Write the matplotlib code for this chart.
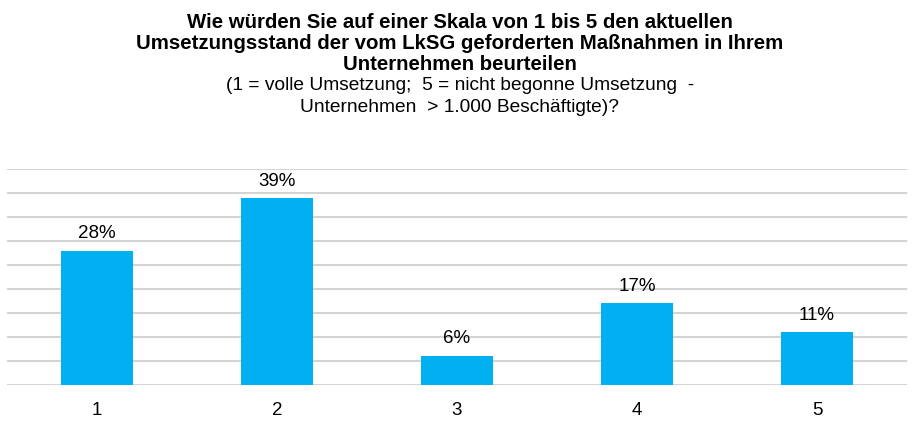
import matplotlib
matplotlib.use("Agg")
import matplotlib.pyplot as plt

categories = ["1", "2", "3", "4", "5"]
values = [28, 39, 6, 17, 11]
labels = ["28%", "39%", "6%", "17%", "11%"]

plt.rcParams['font.family'] = ['Liberation Sans', 'DejaVu Sans']

W, H = 924, 422
fig = plt.figure(figsize=(W/100, H/100), dpi=100)
ax = fig.add_axes([7/W, 1-384.7/H, 900/W, (384.7-169.3)/H])

x = list(range(len(categories)))
bars = ax.bar(x, values, width=0.4, color="#00B0F0", zorder=3)
ax.set_xlim(-0.5, 4.5)
ax.set_ylim(0, 45)
ax.set_yticks(range(0, 46, 5))
ax.yaxis.grid(True, color="#d4d4d4", linewidth=1.5, zorder=0)
ax.set_axisbelow(True)
ax.tick_params(axis='y', left=False, labelleft=False)
ax.tick_params(axis='x', length=0, labelsize=13.5, pad=12.5)
ax.set_xticks(x)
ax.set_xticklabels(categories)
for s in ax.spines.values():
    s.set_visible(False)

for xi, v, lab in zip(x, values, labels):
    ax.annotate(lab, (xi, v), xytext=(0, 9), textcoords="offset points",
                ha="center", va="baseline", fontsize=13.5)

bold_lines = ["Wie würden Sie auf einer Skala von 1 bis 5 den aktuellen",
              "Umsetzungsstand der vom LkSG geforderten Maßnahmen in Ihrem",
              "Unternehmen beurteilen"]
reg_lines = ["(1 = volle Umsetzung;  5 = nicht begonne Umsetzung  -",
             "Unternehmen  > 1.000 Beschäftigte)?"]
ys = [22.5, 43.5, 64, 86, 107]
cx = 460/W
for i, t in enumerate(bold_lines):
    fig.text(cx, 1-ys[i]/H, t, ha="center", va="center", fontsize=14.7, fontweight="bold")
for j, t in enumerate(reg_lines):
    fig.text(cx, 1-ys[3+j]/H, t, ha="center", va="center", fontsize=13.8)

fig.savefig("out.png", dpi=100)
